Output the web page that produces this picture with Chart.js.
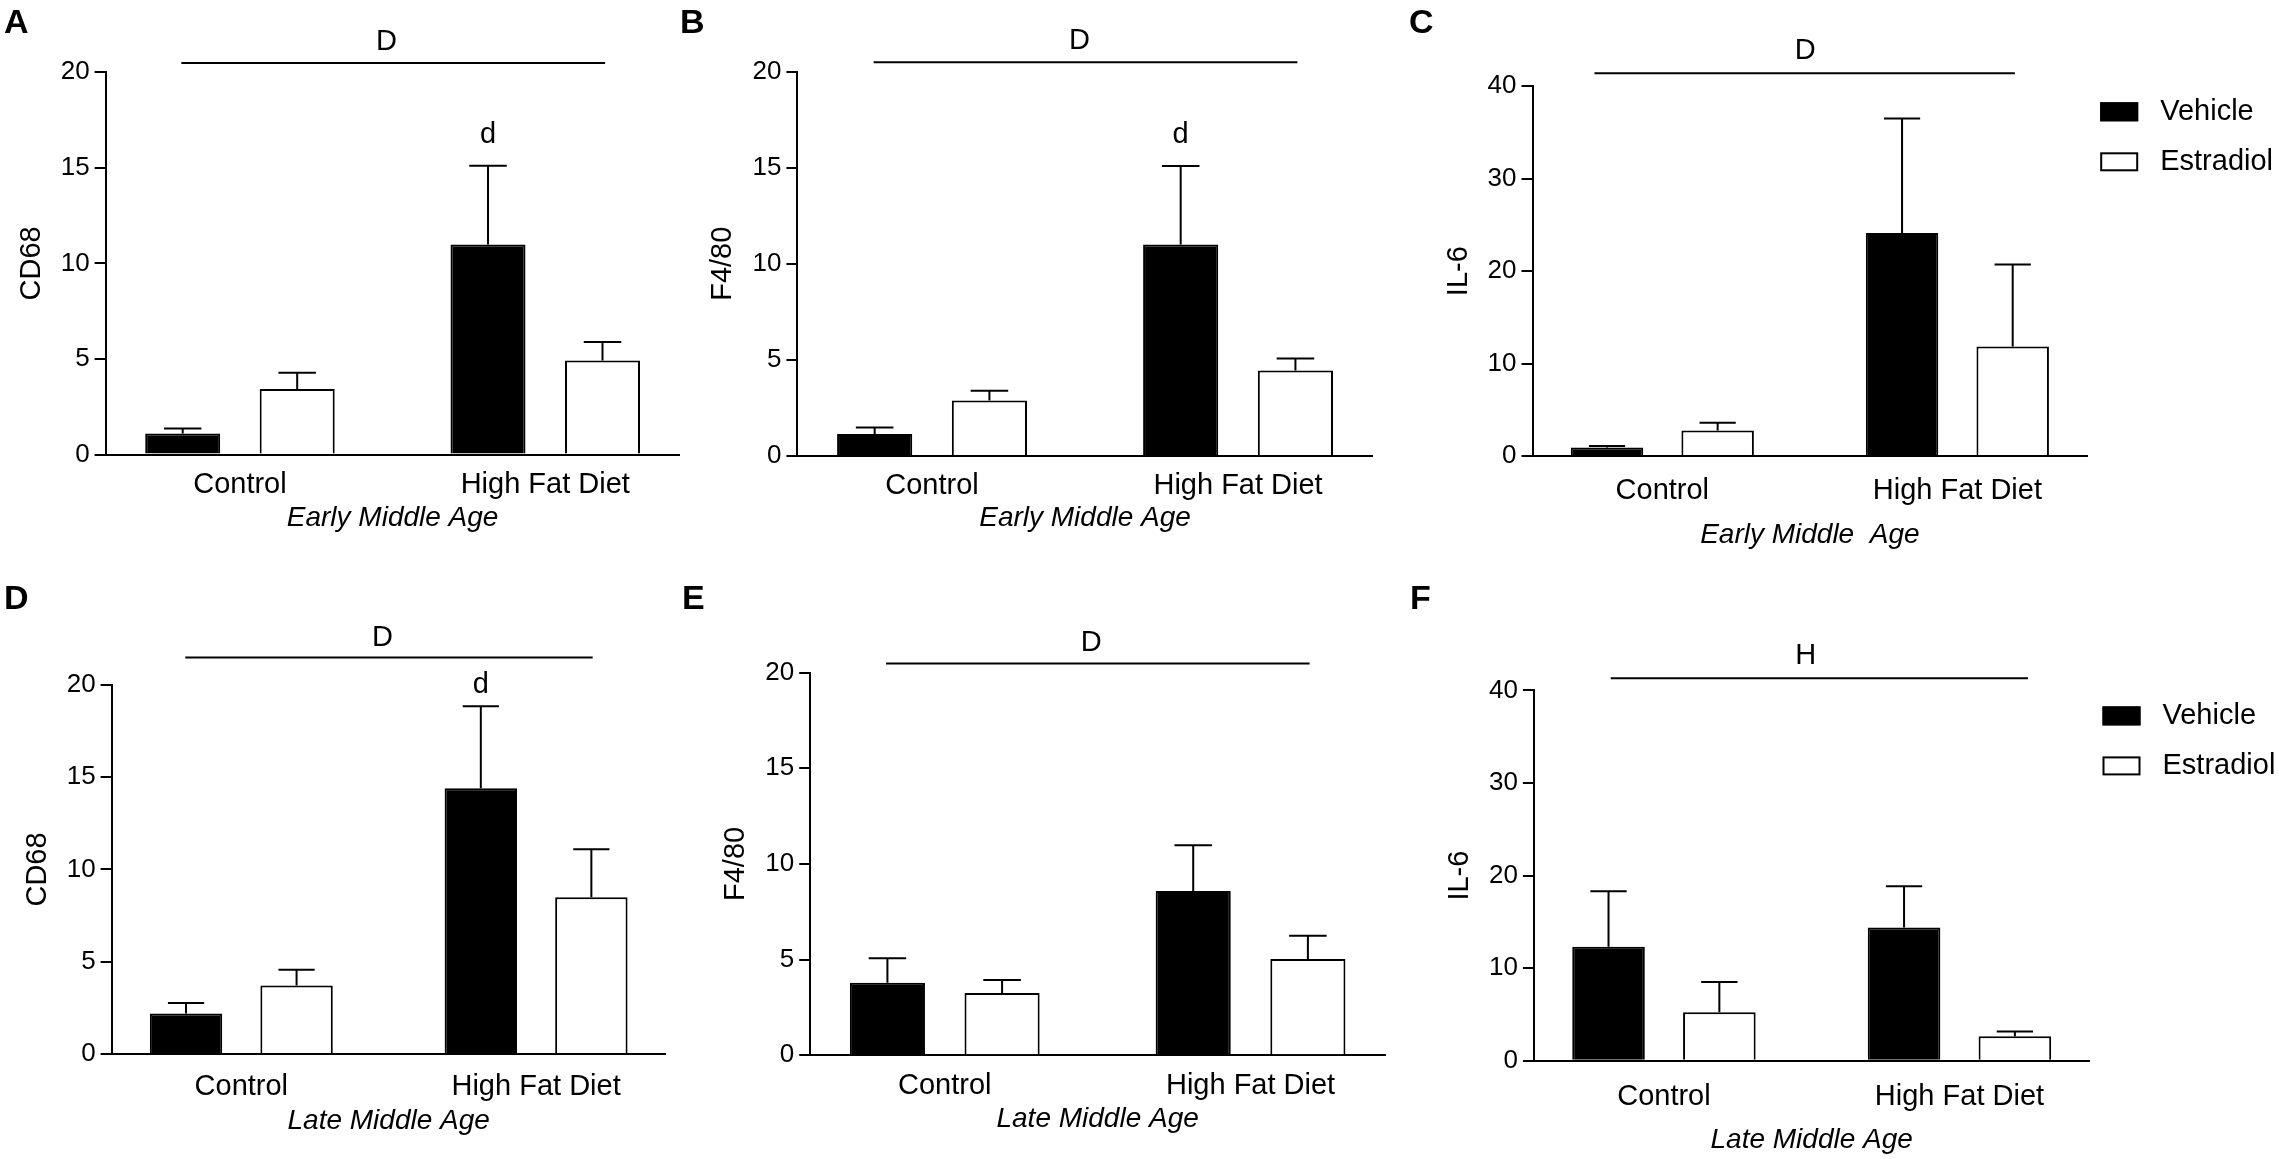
<!DOCTYPE html>
<html>
<head>
<meta charset="utf-8">
<script src="https://cdn.jsdelivr.net/npm/chart.js@4.4.1/dist/chart.umd.min.js"></script>
<style>
html, body { margin: 0; padding: 0; background: #fff; }
#fig { position: relative; width: 2279px; height: 1159px; overflow: hidden; background: #fff; }
#fig canvas { position: absolute; }
.panel-letter { position: absolute; font: bold 34px "Liberation Sans", Arial, sans-serif; line-height: 1; color: #000; }
</style>
</head>
<body>
<div id="fig">
  <canvas id="cA" width="720" height="575" style="left:0px;top:0px"></canvas>
  <canvas id="cB" width="720" height="575" style="left:690px;top:0px"></canvas>
  <canvas id="cC" width="859" height="575" style="left:1420px;top:0px"></canvas>
  <canvas id="cD" width="720" height="579" style="left:0px;top:580px"></canvas>
  <canvas id="cE" width="720" height="579" style="left:690px;top:580px"></canvas>
  <canvas id="cF" width="859" height="579" style="left:1420px;top:580px"></canvas>
  <div class="panel-letter" style="left:4px;top:4px">A</div>
  <div class="panel-letter" style="left:680px;top:4px">B</div>
  <div class="panel-letter" style="left:1409px;top:4px">C</div>
  <div class="panel-letter" style="left:4px;top:580px">D</div>
  <div class="panel-letter" style="left:682px;top:580px">E</div>
  <div class="panel-letter" style="left:1410px;top:580px">F</div>
</div>
<script>
// categories, series, ticks
const groups = ['Control', 'High Fat Diet'];
const seriesNames = ['Vehicle', 'Estradiol'];
const ticks20 = [0, 5, 10, 15, 20];
const ticks40 = [0, 10, 20, 30, 40];

// A - CD68, early middle age
const cd68EarlyVeh = [1.10, 10.99];
const cd68EarlyVehErr = [0.26, 4.11];
const cd68EarlyEst = [3.43, 4.92];
const cd68EarlyEstErr = [0.85, 0.97];

// B - F4/80, early middle age
const f480EarlyVeh = [1.14, 11.0];
const f480EarlyVehErr = [0.34, 4.09];
const f480EarlyEst = [2.89, 4.45];
const f480EarlyEstErr = [0.50, 0.62];

// C - IL-6, early middle age
const il6EarlyVeh = [0.92, 24.13];
const il6EarlyVehErr = [0.16, 12.38];
const il6EarlyEst = [2.77, 11.86];
const il6EarlyEstErr = [0.84, 8.86];

// D - CD68, late middle age
const cd68LateVeh = [2.20, 14.4];
const cd68LateVehErr = [0.57, 4.44];
const cd68LateEst = [3.71, 8.49];
const cd68LateEstErr = [0.86, 2.60];

// E - F4/80, late middle age
const f480LateVeh = [3.79, 8.58];
const f480LateVehErr = [1.28, 2.40];
const f480LateEst = [3.25, 5.03];
const f480LateEstErr = [0.68, 1.22];

// F - IL-6, late middle age
const il6LateVeh = [12.32, 14.4];
const il6LateVehErr = [6.0, 4.44];
const il6LateEst = [5.24, 2.64];
const il6LateEstErr = [3.28, 0.52];

// axis titles
const yTitles = ['CD68', 'F4/80', 'IL-6', 'CD68', 'F4/80', 'IL-6'];
const xTitles = ['Early Middle Age', 'Early Middle Age', 'Early Middle  Age',
                 'Late Middle Age', 'Late Middle Age', 'Late Middle Age'];

// significance annotations (value units)
const sigText = ['D', 'D', 'D', 'D', 'D', 'H'];
const sigLineY = [20.48, 20.48, 41.4, 21.48, 20.47, 41.32];
const sigTextY = [21.6, 21.6, 43.8, 22.55, 21.55, 43.7];
const sigFrom = [-0.192, -0.191, -0.23, -0.19, -0.192, -0.18];
const sigTo = [1.196, 1.194, 1.195, 1.192, 1.193, 1.232];
const sigTextX = [0.48, 0.482, 0.484, 0.479, 0.479, 0.48];
const postHocText = ['d', 'd', '', 'd', '', ''];
const postHocY = [16.7, 16.7, null, 20.0, null, null];

const FONT = '"Liberation Sans", Arial, Helvetica, sans-serif';
Chart.defaults.font.family = FONT;
Chart.defaults.color = '#000';

// where each plot sits inside its canvas (page pixels)
const boxes = [
    { id: 'cA', left: 0,    top: 0,   w: 720, h: 575, L: 105.6,  R: 679.6,  T: 72.2,  B: 454.5,  cat: 30.5, grp: 518.6 },
    { id: 'cB', left: 690,  top: 0,   w: 720, h: 575, L: 797.4,  R: 1372.7, T: 71.5,  B: 456.0,  cat: 30.3, grp: 518.6 },
    { id: 'cC', left: 1420, top: 0,   w: 859, h: 575, L: 1532.5, R: 2087.2, T: 86.3,  B: 456.0,  cat: 34.8, grp: 535.2 },
    { id: 'cD', left: 0,    top: 580, w: 720, h: 579, L: 111.6,  R: 665.8,  T: 684.8, B: 1054.1, cat: 32.6, grp: 1120.8 },
    { id: 'cE', left: 690,  top: 580, w: 720, h: 579, L: 810.2,  R: 1385.1, T: 672.6, B: 1055.2, cat: 30.4, grp: 1119.7 },
    { id: 'cF', left: 1420, top: 580, w: 859, h: 579, L: 1533.9, R: 2089.5, T: 690.4, B: 1060.8, cat: 35.9, grp: 1140.0 }
];

const panelData = [
    [cd68EarlyVeh, cd68EarlyVehErr, cd68EarlyEst, cd68EarlyEstErr, ticks20, false],
    [f480EarlyVeh, f480EarlyVehErr, f480EarlyEst, f480EarlyEstErr, ticks20, false],
    [il6EarlyVeh, il6EarlyVehErr, il6EarlyEst, il6EarlyEstErr, ticks40, true],
    [cd68LateVeh, cd68LateVehErr, cd68LateEst, cd68LateEstErr, ticks20, false],
    [f480LateVeh, f480LateVehErr, f480LateEst, f480LateEstErr, ticks20, false],
    [il6LateVeh, il6LateVehErr, il6LateEst, il6LateEstErr, ticks40, true]
];

// error bars, significance bars, letters, legend
const extrasPlugin = {
    id: 'extras',
    afterDatasetsDraw(chart) {
        const ctx = chart.ctx;
        const y = chart.scales.y;
        ctx.save();
        ctx.strokeStyle = '#000';
        ctx.lineWidth = 2;
        chart.data.datasets.forEach((ds, di) => {
            const meta = chart.getDatasetMeta(di);
            meta.data.forEach((bar, i) => {
                const top = y.getPixelForValue(ds.data[i].y + ds.err[i]);
                const half = bar.width / 4;
                ctx.beginPath();
                ctx.moveTo(bar.x, bar.y);
                ctx.lineTo(bar.x, top);
                ctx.moveTo(bar.x - half, top);
                ctx.lineTo(bar.x + half, top);
                ctx.stroke();
            });
        });
        ctx.restore();
    },
    afterDraw(chart, args, opts) {
        const k = opts.panel;
        const ctx = chart.ctx;
        const x = chart.scales.x, y = chart.scales.y;
        ctx.save();
        ctx.strokeStyle = '#000';
        ctx.fillStyle = '#000';
        ctx.lineWidth = 2;

        // bar over both groups
        const ly = y.getPixelForValue(sigLineY[k]);
        ctx.beginPath();
        ctx.moveTo(x.getPixelForValue(sigFrom[k]), ly);
        ctx.lineTo(x.getPixelForValue(sigTo[k]), ly);
        ctx.stroke();

        ctx.font = '29px ' + FONT;
        ctx.textAlign = 'center';
        ctx.textBaseline = 'middle';
        ctx.fillText(sigText[k], x.getPixelForValue(sigTextX[k]), y.getPixelForValue(sigTextY[k]));

        // post hoc letter above HFD vehicle bar
        if (postHocText[k]) {
            const bar = chart.getDatasetMeta(0).data[1];
            ctx.fillText(postHocText[k], bar.x, y.getPixelForValue(postHocY[k]));
        }

        if (opts.legend) {
            const a = chart.chartArea;
            seriesNames.forEach((name, s) => {
                const bx = a.right + 13, by = a.top + 16 + s * 50;
                ctx.fillStyle = chart.data.datasets[s].backgroundColor;
                ctx.fillRect(bx, by, 38, 19);
                ctx.strokeRect(bx + 1, by + 1, 36, 17);
                ctx.fillStyle = '#000';
                ctx.textAlign = 'left';
                ctx.fillText(name, a.right + 73, by + 10);
            });
        }
        ctx.restore();
    }
};

boxes.forEach((b, k) => {
    const [veh, vehErr, est, estErr, yTicks, legend] = panelData[k];
    const xAxisHeight = b.top + b.h - b.B;

    new Chart(document.getElementById(b.id), {
        type: 'bar',
        data: {
            datasets: [{
                label: seriesNames[0],
                data: groups.map((g, i) => ({ x: i, y: veh[i] })),
                err: vehErr,
                backgroundColor: '#000',
                borderColor: '#000',
                borderWidth: 2
            }, {
                label: seriesNames[1],
                data: groups.map((g, i) => ({ x: i, y: est[i] })),
                err: estErr,
                backgroundColor: '#fff',
                borderColor: '#000',
                borderWidth: 2
            }]
        },
        options: {
            responsive: false,
            animation: false,
            layout: {
                padding: { left: 0, top: b.T - b.top, right: b.left + b.w - b.R, bottom: 0 }
            },
            datasets: {
                bar: { categoryPercentage: 0.75, barPercentage: 0.655, borderSkipped: 'start' }
            },
            scales: {
                x: {
                    type: 'linear',
                    bounds: 'data',
                    min: -0.44,
                    max: 1.44,
                    offset: false,
                    afterBuildTicks: s => { s.ticks = groups.map((g, i) => ({ value: i })); },
                    afterFit: s => { s.height = xAxisHeight; },
                    ticks: {
                        callback: v => groups[v],
                        autoSkip: false,
                        maxRotation: 0,
                        padding: b.cat - 17.4,
                        font: { size: 29 },
                        color: '#000'
                    },
                    grid: { display: false, drawTicks: false },
                    border: { display: true, color: '#000', width: 2 },
                    title: {
                        display: true,
                        text: xTitles[k],
                        color: '#000',
                        font: { size: 28, style: 'italic' },
                        padding: { top: 0, bottom: b.top + b.h - b.grp - 16.8 }
                    }
                },
                y: {
                    min: 0,
                    max: yTicks[yTicks.length - 1],
                    afterBuildTicks: s => { s.ticks = yTicks.map(v => ({ value: v })); },
                    afterFit: s => { s.width = b.L - b.left; },
                    ticks: { font: { size: 26 }, color: '#000', padding: 5 },
                    grid: { drawOnChartArea: false, drawTicks: true, tickLength: 11, color: '#000', lineWidth: 2 },
                    border: { display: true, color: '#000', width: 2 },
                    title: {
                        display: true,
                        text: yTitles[k],
                        color: '#000',
                        font: { size: 29 },
                        padding: { top: b.L - 74 - b.left - 17.4, bottom: 0 }
                    }
                }
            },
            plugins: {
                legend: { display: false },
                tooltip: { enabled: false },
                extras: { panel: k, legend: legend }
            }
        },
        plugins: [extrasPlugin]
    });
});
</script>
</body>
</html>
